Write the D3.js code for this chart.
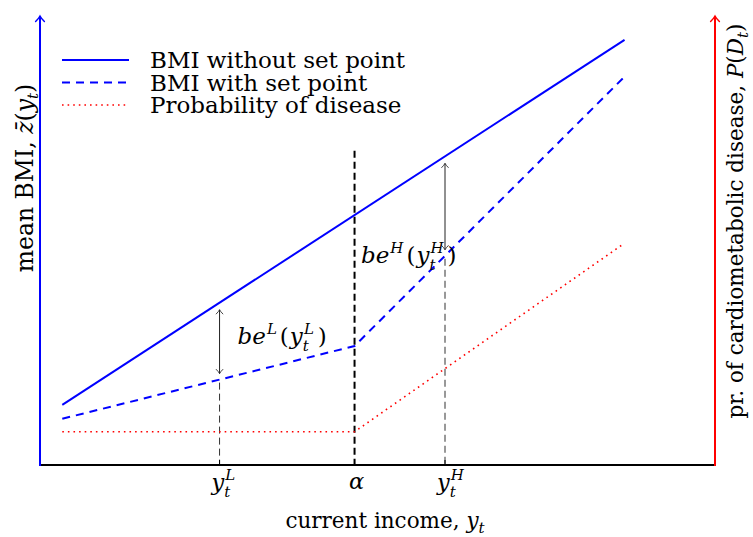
<!DOCTYPE html>
<html><head><meta charset="utf-8">
<script src="https://cdn.jsdelivr.net/npm/d3@7"></script>
<style>
body{margin:0;background:#fff}
svg{display:block}
text{font-family:"DejaVu Serif","Liberation Serif",serif;fill:#000}
</style>
</head><body>
<svg id="c" width="753" height="537"></svg>
<script>
// ---- data ----
const incomeDomain = [0, 10];
const levelDomain = [0, 10];
const bmiWithoutSetPoint = [{income: 0.33, level: 1.34}, {income: 8.66, level: 9.47}];
const bmiWithSetPoint = [{income: 0.33, level: 1.03}, {income: 4.66, level: 2.65}, {income: 8.66, level: 8.65}];
const diseaseProb = [{income: 0.33, level: 0.74}, {income: 4.66, level: 0.74}, {income: 8.66, level: 4.94}];
const tickIncome = [2.66, 4.66, 6.0];
const tickNames = ["yL", "alpha", "yH"];
const alphaIncome = 4.66;
const alphaLineTop = 7.0;
const gapIncome = [2.66, 6.0];
const gapNames = ["L", "H"];
const legendLabels = ["BMI without set point", "BMI with set point", "Probability of disease"];

// ---- layout ----
const svg = d3.select("#c");
const x = d3.scaleLinear().domain(incomeDomain).range([40, 715]);
const y = d3.scaleLinear().domain(levelDomain).range([465, 16]);
const line = d3.line().x(d => x(d.income)).y(d => y(d.level));
function valueAt(series, inc) {
  for (let i = 0; i < series.length - 1; i++) {
    const a = series[i], b = series[i + 1];
    if (inc >= a.income && inc <= b.income) {
      return a.level + (b.level - a.level) * (inc - a.income) / (b.income - a.income);
    }
  }
  return series[series.length - 1].level;
}

const defs = svg.append("defs");
function mk(id, color, size, sw) {
  defs.append("marker").attr("id", id).attr("viewBox", "-10 -10 20 20")
    .attr("markerWidth", size).attr("markerHeight", size).attr("refX", 0).attr("refY", 0)
    .attr("markerUnits", "userSpaceOnUse").attr("orient", "auto-start-reverse")
    .append("path").attr("d", "M-7,-5.5 Q-3,-1.5 0,0 Q-3,1.5 -7,5.5").attr("fill", "none")
    .attr("stroke", color).attr("stroke-width", sw).attr("stroke-linecap", "round");
}
mk("ab", "blue", 16, 1.8); mk("ar", "red", 16, 1.8); mk("ak", "#222", 12, 1.4);

// dashed guides
gapIncome.forEach(inc => {
  const yv = valueAt(bmiWithSetPoint, inc);
  svg.append("line").attr("x1", x(inc)).attr("x2", x(inc))
    .attr("y1", y(yv) + 3).attr("y2", y(0))
    .attr("stroke", "#333").attr("stroke-width", 1).attr("stroke-dasharray", "7,4");
});
svg.append("line").attr("x1", x(alphaIncome)).attr("x2", x(alphaIncome))
  .attr("y1", y(alphaLineTop)).attr("y2", y(0))
  .attr("stroke", "#000").attr("stroke-width", 2).attr("stroke-dasharray", "7,4");

// axes
svg.append("line").attr("x1", x(0)).attr("x2", x(10)).attr("y1", y(0)).attr("y2", y(0))
  .attr("stroke", "#000").attr("stroke-width", 2);
svg.append("line").attr("x1", x(0)).attr("x2", x(0)).attr("y1", y(0) + 1).attr("y2", y(10))
  .attr("stroke", "blue").attr("stroke-width", 2).attr("marker-end", "url(#ab)");
svg.append("line").attr("x1", x(10)).attr("x2", x(10)).attr("y1", y(0) + 1).attr("y2", y(10))
  .attr("stroke", "red").attr("stroke-width", 2).attr("marker-end", "url(#ar)");
tickIncome.forEach(t => {
  svg.append("line").attr("x1", x(t)).attr("x2", x(t)).attr("y1", y(0)).attr("y2", y(0) - 5)
    .attr("stroke", "#000").attr("stroke-width", 1);
});

// series
svg.append("path").datum(diseaseProb).attr("d", line).attr("fill", "none")
  .attr("stroke", "red").attr("stroke-width", 1.6).attr("stroke-dasharray", "1.6,4");
svg.append("path").datum(bmiWithSetPoint).attr("d", line).attr("fill", "none")
  .attr("stroke", "blue").attr("stroke-width", 2).attr("stroke-dasharray", "8,6");
svg.append("path").datum(bmiWithoutSetPoint).attr("d", line).attr("fill", "none")
  .attr("stroke", "blue").attr("stroke-width", 2);

// double arrows
gapIncome.forEach(inc => {
  const top = y(valueAt(bmiWithoutSetPoint, inc)) + 7;
  const bot = y(valueAt(bmiWithSetPoint, inc)) - 6;
  svg.append("line").attr("x1", x(inc)).attr("x2", x(inc)).attr("y1", top).attr("y2", bot)
    .attr("stroke", "#222").attr("stroke-width", 1)
    .attr("marker-start", "url(#ak)").attr("marker-end", "url(#ak)");
});

// math text helper
function math(g, x0, y0, parts, size, extra) {
  const t = g.append("text").attr("x", x0).attr("y", y0).attr("font-size", size);
  if (extra) extra(t);
  parts.forEach(p => {
    const s = t.append("tspan").text(p.t);
    if (p.i) s.attr("font-style", "italic");
    if (p.s) s.attr("font-size", p.s);
    if (p.dx) s.attr("dx", p.dx);
    if (p.dy) s.attr("dy", p.dy);
  });
  return t;
}
const SS = 15;
const gapParts = n => [
  {t: "be", i: 1}, {t: n, i: 1, s: SS, dy: -10, dx: 1}, {t: "(", dy: 10, dx: 3},
  {t: "y", i: 1, dx: 1}, {t: "t", i: 1, s: SS, dy: 7}, {t: n, i: 1, s: SS, dy: -17, dx: -5}, {t: ")", dy: 10, dx: 4}
];
math(svg, x(gapIncome[0]) + 18, 344, gapParts(gapNames[0]), 23);
math(svg, x(gapIncome[1]) - 84, 263, gapParts(gapNames[1]), 23);

// tick labels
tickIncome.forEach((t, i) => {
  const nm = tickNames[i];
  if (nm === "alpha") {
    math(svg, x(t) + 2, 489, [{t: "α", i: 1}], 22.5, s => s.attr("text-anchor", "middle"));
  } else {
    const sup = nm === "yL" ? "L" : "H";
    math(svg, x(t) - 8, 490, [{t: "y", i: 1}, {t: "t", i: 1, s: SS, dy: 7}, {t: sup, i: 1, s: SS, dy: -17, dx: -5}], 22.5);
  }
});

// axis titles
math(svg, 385, 528, [{t: "current income, "}, {t: "y", i: 1}, {t: "t", i: 1, s: SS, dy: 5}], 21.5,
  s => s.attr("text-anchor", "middle"));
math(svg, 0, 0, [{t: "mean BMI, "}, {t: "z̄", i: 1}, {t: "("}, {t: "y", i: 1}, {t: "t", i: 1, s: SS, dy: 5}, {t: ")", dy: -5}], 23.5,
  s => s.attr("text-anchor", "middle").attr("transform", "translate(33,178) rotate(-90)"));
math(svg, 0, 0, [{t: "pr. of cardiometabolic disease, "}, {t: "P", i: 1}, {t: "("}, {t: "D", i: 1}, {t: "t", i: 1, s: SS, dy: 5}, {t: ")", dy: -5}], 21.5,
  s => s.attr("text-anchor", "middle").attr("transform", "translate(743,221) rotate(-90)"));

// legend
const legStyles = [
  {c: "blue", d: null, w: 2},
  {c: "blue", d: "8,6", w: 2},
  {c: "red", d: "1.6,4", w: 1.6}
];
legendLabels.forEach((lab, i) => {
  const yy = 60 + i * 22.5;
  svg.append("line").attr("x1", 62).attr("x2", 129).attr("y1", yy).attr("y2", yy)
    .attr("stroke", legStyles[i].c).attr("stroke-width", legStyles[i].w)
    .attr("stroke-dasharray", legStyles[i].d);
  svg.append("text").attr("x", 150).attr("y", yy + 8).attr("font-size", 23).text(lab);
});
</script>
</body></html>
